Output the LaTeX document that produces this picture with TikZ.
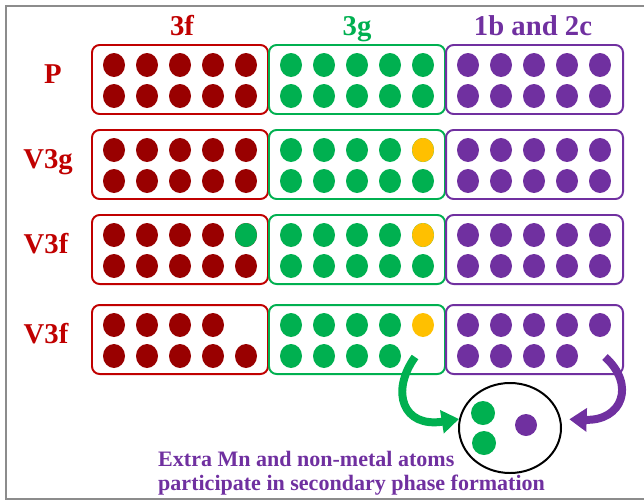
\documentclass[tikz,border=0pt]{standalone}
\usepackage{fontspec}
\setmainfont{Liberation Serif}
\usetikzlibrary{arrows.meta,shapes.geometric}
\definecolor{cLab}{HTML}{C00000}
\definecolor{cF}{HTML}{990000}
\definecolor{cG}{HTML}{00B050}
\definecolor{cBC}{HTML}{7030A0}
\definecolor{cVac}{HTML}{FFC000}
\definecolor{cFrame}{HTML}{8C8C8C}

\begin{document}
\begin{tikzpicture}[
  x=0.03cm,y=-0.03cm,
  head/.style={font=\fontsize{24.5}{28}\selectfont\bfseries,anchor=base,inner sep=0pt},
  box/.style={line width=1.7pt,rounded corners=6.5pt},
  atom/.style={x radius=0.33cm,y radius=0.36cm},
  ar/.style={-{Triangle[length=0.52cm,width=0.68cm]},line width=6.8pt},
]
\useasboundingbox (0,0) rectangle (644,500);
% frame, open on the right
\draw[line width=1.7pt,color=cFrame] (660,6) -- (6,6) -- (6,498.5) -- (660,498.5);

% ============================================================ headers
\node[head,color=cLab] (hF)  at (182,35) {3f};
\node[head,color=cG]   (hG)  at (357,35) {3g};
\node[head,color=cBC]  (hBC) at (533,35) {1b and 2c};

% ============================================================ row labels
\node[head,color=cLab] (rP)   at (53,83)  {P};
\node[head,color=cLab] (rV3g) at (48,168) {V3g};
\node[head,color=cLab] (rV3f) at (46,253) {V3f};
\node[head,color=cLab] (rV3x) at (46,343) {V3f};

% ============================================================ site boxes
\foreach \t in {45,130,215,305} {
  \draw[box,color=cLab] (92,\t)  rectangle ++(176,69);
  \draw[box,color=cG]   (269,\t) rectangle ++(176,69);
  \draw[box,color=cBC]  (446,\t) rectangle ++(177,69);
}

% ============================================================ atoms
% rows P, V3g, V3f: all sites filled
\foreach \t in {45,130,215} \foreach \k in {0,...,4} \foreach \dy in {20,51} {
  \fill[cF]  ({114+\k*33},{\t+\dy}) ellipse[atom];
  \fill[cG]  ({291+\k*33},{\t+\dy}) ellipse[atom];
  \fill[cBC] ({468+\k*33},{\t+\dy}) ellipse[atom];
}
% vacancy on 3g, Mn on 3f
\fill[cVac] (423,150) ellipse[atom];
\fill[cG]   (246,235) ellipse[atom];
\fill[cVac] (423,235) ellipse[atom];
% last row: atoms missing
\foreach \k in {0,...,3} {
  \fill[cF]  ({114+\k*33},325) ellipse[atom];
  \fill[cG]  ({291+\k*33},325) ellipse[atom];
  \fill[cG]  ({291+\k*33},356) ellipse[atom];
  \fill[cBC] ({468+\k*33},356) ellipse[atom];
}
\foreach \k in {0,...,4} {
  \fill[cF]  ({114+\k*33},356) ellipse[atom];
  \fill[cBC] ({468+\k*33},325) ellipse[atom];
}
\fill[cVac] (423,325) ellipse[atom];

% ============================================================ secondary phase
\node[draw,ellipse,line width=1.7pt,minimum width=3.06cm,minimum height=2.7cm,inner sep=0pt]
  (phase) at (510,428) {};
\fill[cG]  (483,413) circle (0.36cm);
\fill[cG]  (484,443) circle (0.36cm);
\fill[cBC] (526,425) circle (0.33cm);

\coordinate (gsrc) at (415,357);
\coordinate (psrc) at (605,357);
\draw[ar,color=cG] (gsrc) .. controls (390,392) and (403,428) .. (phase.170);
\draw[ar,color=cBC,shorten >=0.25cm] (psrc) .. controls (636,385) and (622,421) .. (phase.10);

\node[font=\fontsize{18.8}{20.4}\selectfont\bfseries,color=cBC,align=left,anchor=west,inner sep=0pt]
  (note) at (158,473) {Extra Mn and non-metal atoms\\participate in secondary phase formation};

\end{tikzpicture}
\end{document}
